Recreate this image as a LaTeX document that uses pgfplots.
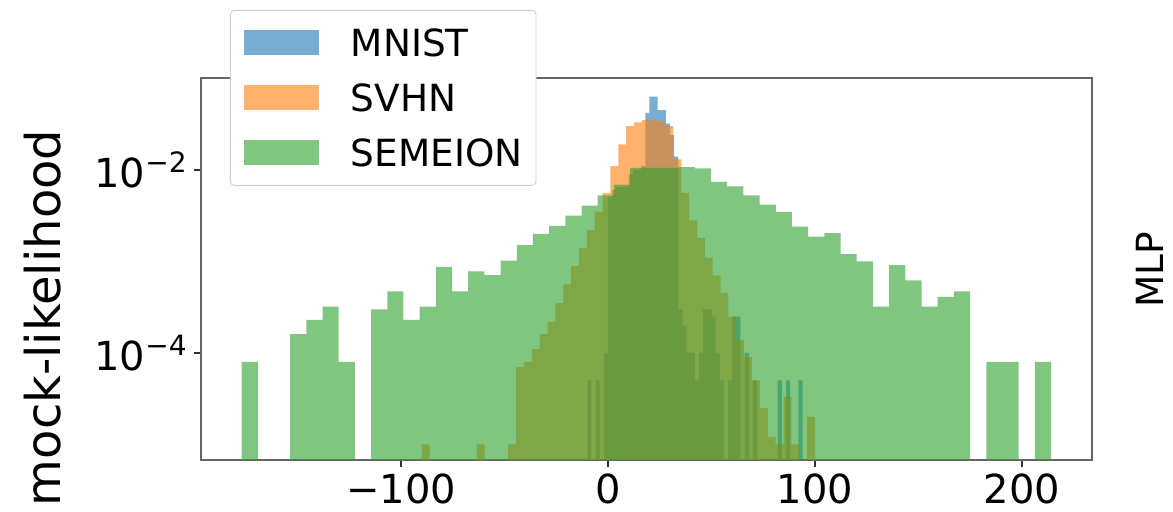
\documentclass[border=0pt]{standalone}
\usepackage{pgfplots}
\pgfplotsset{compat=1.18}
\usepackage{fontspec}
\setmainfont{DejaVu Sans}
\definecolor{mplblue}{HTML}{1F77B4}
\definecolor{mplorange}{HTML}{FF7F0E}
\definecolor{mplgreen}{HTML}{2CA02C}
\pgfplotsset{mylegend/.style={legend image code/.code={\fill[##1, sharp corners] (0pt,-6.25pt) rectangle (37.5pt,6.25pt);}}}
\begin{document}
\begin{tikzpicture}
\path[use as bounding box] (-100.5pt,-26pt) rectangle (486pt,230pt);
\begin{axis}[
  at={(0,0)}, anchor=south west,
  scale only axis, width=445.5pt, height=191pt,
  xmin=-196.6, xmax=233.8,
  ymode=log, ymin=6.76e-6, ymax=0.101,
  log origin y=infty,
  xtick={-100,0,100,200},
  xticklabels={−100,0,100,200},
  ytick={1e-4,1e-2},
  yticklabels={10\textsuperscript{−4},10\textsuperscript{−2}},
  xminorticks=false, yminorticks=false,
  xtick pos=lower, ytick pos=left,
  tick align=outside,
  major tick length=3.5pt,
  axis line style={draw=black!60, line width=1pt},
  tick style={draw=black!80, line width=0.9pt},
  tick label style={font=\fontsize{20}{24}\selectfont},
  xticklabel style={inner sep=0pt, yshift=-3pt},
  yticklabel style={inner sep=0pt, xshift=-3pt},
  ylabel={mock-likelihood},
  ylabel style={at={(rel axis cs:-0.178,0.372)}, anchor=center, font=\fontsize{24}{28}\selectfont},
  legend style={at={(rel axis cs:0.0325,1.178)}, anchor=north west, draw=black!20, fill=white,
    rounded corners=2pt, inner xsep=6.75pt, inner ysep=9.5pt, row sep=14pt, column sep=16pt,
    font=\fontsize{18.7}{22}\selectfont, nodes={inner sep=0pt, text height=13.5pt, text depth=0pt}},
  legend cell align=left,
]
% MNIST, bins of width 2
\addplot[ybar interval, fill=mplblue, draw=none, fill opacity=0.6, mylegend] coordinates {
(-10,5e-5) (-8,1e-9) (-6,5e-5) (-4,1e-9) (-2,1e-4) (0,5e-3) (2,6e-3) (4,6.5e-3) (6,6.5e-3) (8,6.5e-3)
(10,9e-3) (12,1e-2) (14,1e-2) (16,1.1e-2) (18,4.2e-2) (20,6.3e-2) (22,6.3e-2) (24,4.5e-2) (26,4.5e-2)
(28,3.2e-2) (30,2.4e-2) (32,1.4e-2) (34,3e-4) (36,2e-4) (38,1e-4) (40,1e-4) (42,5e-5) (44,1e-4)
(46,3e-4) (48,3e-4) (50,2.5e-4) (52,1e-4) (54,5e-5) (56,1e-9) (58,5e-5) (60,2.5e-4) (62,2.5e-4)
(64,1e-9) (66,1e-4) (68,1e-9) (70,5e-5) (72,1e-9) (74,1e-9) (76,1e-9) (78,1e-9) (80,1e-9)
(82,5e-5) (84,1e-9) (86,5e-5) (88,1e-9) (90,1e-9) (92,5e-5) (94,5e-5)
};
\addlegendentry{MNIST}
% SVHN, bins of width 3.8
\addplot[ybar interval, fill=mplorange, draw=none, fill opacity=0.6, mylegend] coordinates {
(-90,1e-5) (-86.2,1e-9) (-82.4,1e-9) (-78.6,1e-9) (-74.8,1e-9) (-71,1e-9) (-67.2,1e-9)
(-63.4,1e-5) (-59.6,1e-9) (-55.8,1e-9) (-52,1e-9) (-48.2,1e-5) (-44.4,7e-5) (-40.6,8e-5)
(-36.8,1.1e-4) (-33,1.6e-4) (-29.2,2.2e-4) (-25.4,3.5e-4) (-21.6,5.6e-4) (-17.8,8.9e-4)
(-14,1.4e-3) (-10.2,2.2e-3) (-6.4,3.5e-3) (-2.6,5.6e-3) (1.2,1.1e-2) (5,1.9e-2) (8.8,3.0e-2)
(12.6,3.3e-2) (16.4,3.5e-2) (20.2,3.5e-2) (24,3.4e-2) (27.8,3.0e-2) (31.6,1.3e-2) (35.4,5.6e-3)
(39.2,2.8e-3) (43,1.8e-3) (46.8,1.1e-3) (50.6,7e-4) (54.4,4.5e-4) (58.2,2.5e-4) (62,1.4e-4)
(65.8,9e-5) (69.6,5e-5) (73.4,2.5e-5) (77.2,1.2e-5) (81,1e-5) (84.8,3.3e-5) (88.6,1e-5)
(92.4,1e-9) (96.2,2e-5) (100,2e-5)
};
\addlegendentry{SVHN}
% SEMEION, bins of width 7.82
\addplot[ybar interval, fill=mplgreen, draw=none, fill opacity=0.6, mylegend] coordinates {
(-177.00,8.0e-5) (-169.18,1e-9) (-161.36,1e-9) (-153.54,1.6e-4) (-145.72,2.3e-4) (-137.90,3.2e-4)
(-130.08,8.0e-5) (-122.26,1e-9) (-114.44,3.0e-4) (-106.62,4.7e-4) (-98.80,2.3e-4) (-90.98,3.2e-4)
(-83.16,8.7e-4) (-75.34,4.7e-4) (-67.52,7.8e-4) (-59.70,7.1e-4) (-51.88,1.02e-3) (-44.06,1.51e-3)
(-36.24,2.0e-3) (-28.42,2.45e-3) (-20.60,3.16e-3) (-12.78,4.07e-3) (-4.96,5.25e-3) (2.86,6.9e-3)
(10.68,1.05e-2) (18.50,1.05e-2) (26.32,1.05e-2) (34.14,1.07e-2) (41.96,1.04e-2) (49.78,7.4e-3)
(57.60,6.6e-3) (65.42,5.25e-3) (73.24,4.17e-3) (81.06,3.47e-3) (88.88,2.4e-3) (96.70,1.86e-3)
(104.52,2.04e-3) (112.34,1.2e-3) (120.16,1.0e-3) (127.98,3.2e-4) (135.80,9.1e-4) (143.62,6.2e-4)
(151.44,3.2e-4) (159.26,4.1e-4) (167.08,4.7e-4) (174.90,1e-9) (182.72,8.0e-5) (190.54,8.0e-5)
(198.36,1e-9) (206.18,8.0e-5) (214.00,8.0e-5)
};
\addlegendentry{SEMEION}
\end{axis}
\node[rotate=90, font=\fontsize{18.7}{22}\selectfont, anchor=center] at (474.5pt,95pt) {MLP};
\end{tikzpicture}
\end{document}
